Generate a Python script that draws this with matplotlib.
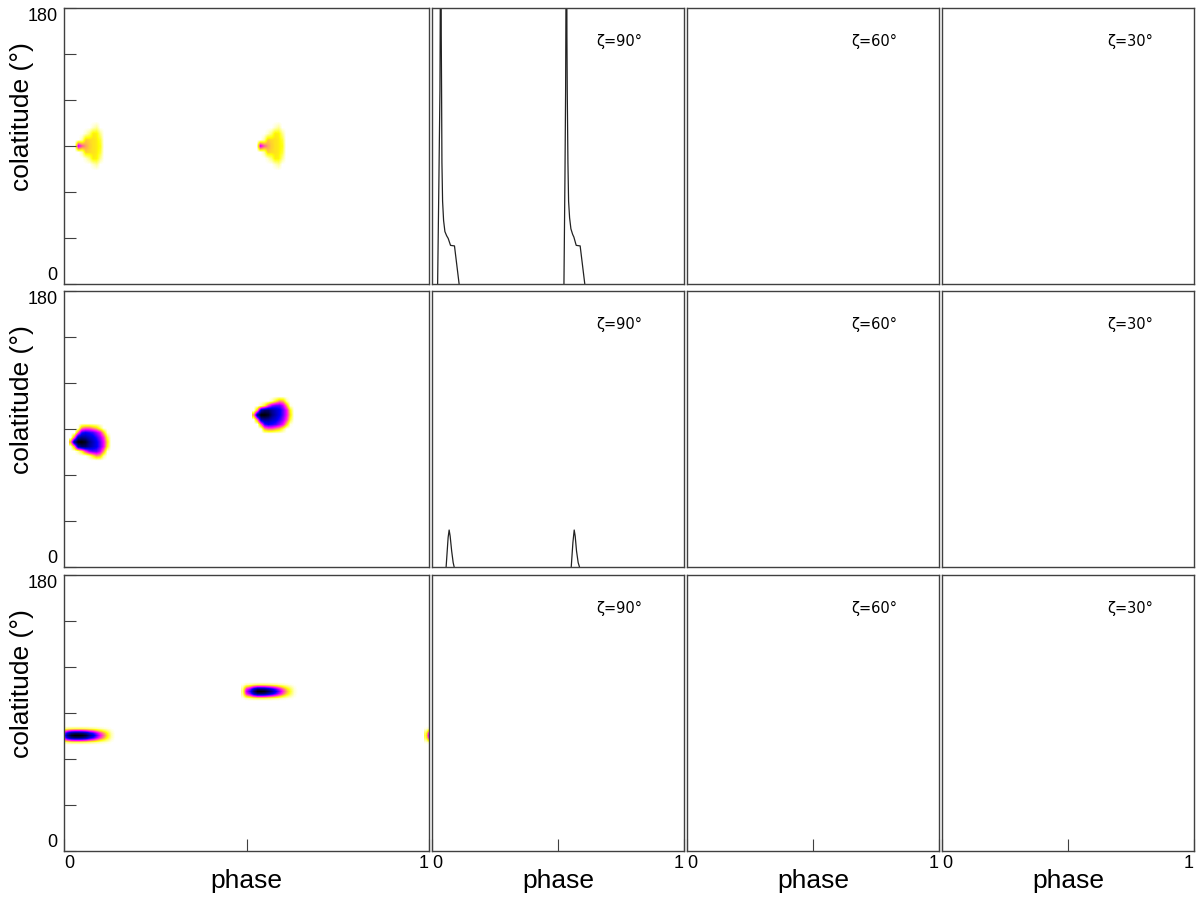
import numpy as np
import matplotlib.pyplot as plt
from matplotlib.colors import LinearSegmentedColormap

plt.rcParams['font.family'] = ['Liberation Sans', 'DejaVu Sans']

zetas = ['90', '60', '30']

# light curves (zeta = 90 column), flux normalised to panel height; one list per pulse
lc1_pulses = [
    ([0.0223, 0.0276, 0.0315, 0.0354, 0.0367, 0.0380, 0.0394, 0.0420, 0.0460, 0.0512,
      0.0580, 0.0643, 0.0735, 0.0892, 0.1076],
     [0, 0.39, 0.70, 1.6, 0.90, 0.70, 0.44, 0.30, 0.23, 0.19,
      0.175, 0.165, 0.14, 0.138, 0]),
    ([0.5236, 0.5276, 0.5302, 0.5341, 0.5354, 0.5367, 0.5394, 0.5420, 0.5460, 0.5512,
      0.5580, 0.5630, 0.5722, 0.5879, 0.6063],
     [0, 0.39, 0.70, 1.6, 0.90, 0.70, 0.44, 0.30, 0.24, 0.20,
      0.18, 0.17, 0.14, 0.138, 0]),
]
lc2_pulses = [
    ([0.056, 0.064, 0.068, 0.072, 0.078, 0.084, 0.088],
     [0, 0.107, 0.134, 0.112, 0.058, 0.016, 0]),
    ([0.5525, 0.5591, 0.5643, 0.5682, 0.5735, 0.580, 0.5853],
     [0, 0.088, 0.134, 0.112, 0.058, 0.016, 0]),
]
light_curves = [lc1_pulses, lc2_pulses, []]

# emission maps: small intensity grids (rows = colatitude, bottom to top)
# row 1: phase 0.03..0.11 step 0.01, colatitude 74..106 step 4
blob1 = [[0, 0, 0, 0, 0, 0, 0, 0, 0],
         [0, 0, 0, 0, 0, 0.03, 0.06, 0, 0],
         [0, 0, 0, 0.03, 0.08, 0.17, 0.16, 0.07, 0],
         [0, 0, 0.05, 0.20, 0.19, 0.18, 0.17, 0.12, 0],
         [0, 0.45, 0.32, 0.24, 0.20, 0.18, 0.17, 0.14, 0],
         [0, 0, 0.05, 0.20, 0.19, 0.18, 0.17, 0.12, 0],
         [0, 0, 0, 0.03, 0.08, 0.17, 0.16, 0.07, 0],
         [0, 0, 0, 0, 0, 0.03, 0.06, 0, 0],
         [0, 0, 0, 0, 0, 0, 0, 0, 0]]
blob1_phase = [0.03, 0.527]
# row 2: phase 0.02..0.13 step 0.01, colatitude 69..93 step 3
blob2 = [[0, 0, 0, 0, 0, 0, 0, 0, 0, 0, 0, 0],
         [0, 0, 0, 0, 0, 0.05, 0.15, 0.25, 0.22, 0.05, 0, 0],
         [0, 0, 0.05, 0.15, 0.35, 0.50, 0.55, 0.55, 0.45, 0.25, 0.02, 0],
         [0, 0.25, 0.75, 0.85, 0.85, 0.78, 0.72, 0.66, 0.55, 0.40, 0.15, 0],
         [0.25, 0.80, 1.0, 1.0, 0.95, 0.82, 0.74, 0.66, 0.55, 0.40, 0.18, 0],
         [0, 0.30, 0.75, 0.80, 0.78, 0.72, 0.68, 0.60, 0.50, 0.35, 0.12, 0],
         [0, 0, 0.30, 0.60, 0.65, 0.62, 0.58, 0.50, 0.40, 0.20, 0.02, 0],
         [0, 0, 0, 0.25, 0.30, 0.30, 0.25, 0.20, 0.10, 0, 0, 0],
         [0, 0, 0, 0, 0, 0, 0, 0, 0, 0, 0, 0]]
# row 3: along-phase and across-colatitude profiles
blob3a_along = [0.12, 0.55, 0.80, 0.95, 1.0, 1.0, 0.98, 0.92, 0.80, 0.70, 0.55, 0.40, 0.28, 0.16, 0.05, 0]
blob3b_along = [0.08, 0.45, 0.60, 0.85, 1.0, 1.0, 0.97, 0.88, 0.78, 0.65, 0.50, 0.35, 0.22, 0.12, 0.03, 0]
blob3_across = [0, 0.10, 0.45, 0.85, 1.0, 0.85, 0.45, 0.10, 0]

cmap = LinearSegmentedColormap.from_list(
    'wymbk', [(0, 'white'), (0.15, 'yellow'), (0.4, 'magenta'), (0.64, 'blue'), (1, 'black')])


def show_blob(ax, grid, p0, c0, dp, dc):
    grid = np.asarray(grid, dtype=float)
    nr, nc = grid.shape
    ext = [p0 - dp / 2, p0 + (nc - 0.5) * dp, c0 - dc / 2, c0 + (nr - 0.5) * dc]
    ax.imshow(grid, extent=ext, origin='lower', cmap=cmap, vmin=0, vmax=1,
              aspect='auto', interpolation='bilinear', interpolation_stage='data')


fig = plt.figure(figsize=(12, 9.02), dpi=100)
W, H = 1200, 902
row_top = [8, 291, 575]
row_h = 276
col_left = [64, 432, 687, 942]
col_w = [365, 252, 252, 252]
spine_col = '#404040'

for r in range(3):
    for c in range(4):
        ax = fig.add_axes([col_left[c] / W, (H - row_top[r] - row_h) / H, col_w[c] / W, row_h / H])
        for s in ax.spines.values():
            s.set_color(spine_col)
            s.set_linewidth(1.0)
        ax.tick_params(direction='in', length=8.5, width=0.8, color=spine_col,
                       labelsize=13, pad=4.5, top=False, right=False)
        ax.tick_params(axis='x', pad=3)
        if r == 2:
            ax.set_xticks([0, 0.5, 1])
            ax.set_xticklabels(['0', '', '1'])
            xl = ax.get_xticklabels()
            xl[0].set_ha('left')
            xl[2].set_ha('right')
            ax.set_xlabel('phase', fontsize=19, labelpad=-2)
        else:
            ax.set_xticks([])

        if c == 0:
            if r == 0:
                for p0 in blob1_phase:
                    show_blob(ax, blob1, p0, 74, 0.01, 4)
            elif r == 1:
                show_blob(ax, blob2, 0.02, 69, 0.01, 3)
                show_blob(ax, np.flipud(blob2), 0.52, 87, 0.01, 3)
            else:
                g3a = np.outer(blob3_across, blob3a_along)
                g3b = np.outer(blob3_across, blob3b_along)
                show_blob(ax, g3a, -0.01, 69.5, 0.01, 1.5)
                show_blob(ax, g3a, 0.99, 69.5, 0.01, 1.5)
                show_blob(ax, g3b, 0.49, 98.0, 0.01, 1.5)
            ax.set_ylim(0, 180)
            ax.set_yticks([0, 30, 60, 90, 120, 150, 180])
            ax.set_yticklabels(['0', '', '', '', '', '', '180'])
            yl = ax.get_yticklabels()
            yl[0].set_va('bottom')
            yl[6].set_va('top')
            ax.set_ylabel('colatitude (°)', fontsize=19)
            ax.yaxis.set_label_coords(-0.083, 0.605)
        else:
            ax.set_ylim(0, 1)
            ax.set_yticks([])
            if c == 1:
                for ph, fl in light_curves[r]:
                    ax.plot(ph, fl, color='#222222', lw=0.9)
            ax.text(0.745, 0.878, 'ζ=' + zetas[c - 1] + '°', transform=ax.transAxes,
                    ha='center', va='center', fontsize=10.5, family='DejaVu Sans')
        ax.set_xlim(0, 1)

fig.savefig('out.png', dpi=100)
